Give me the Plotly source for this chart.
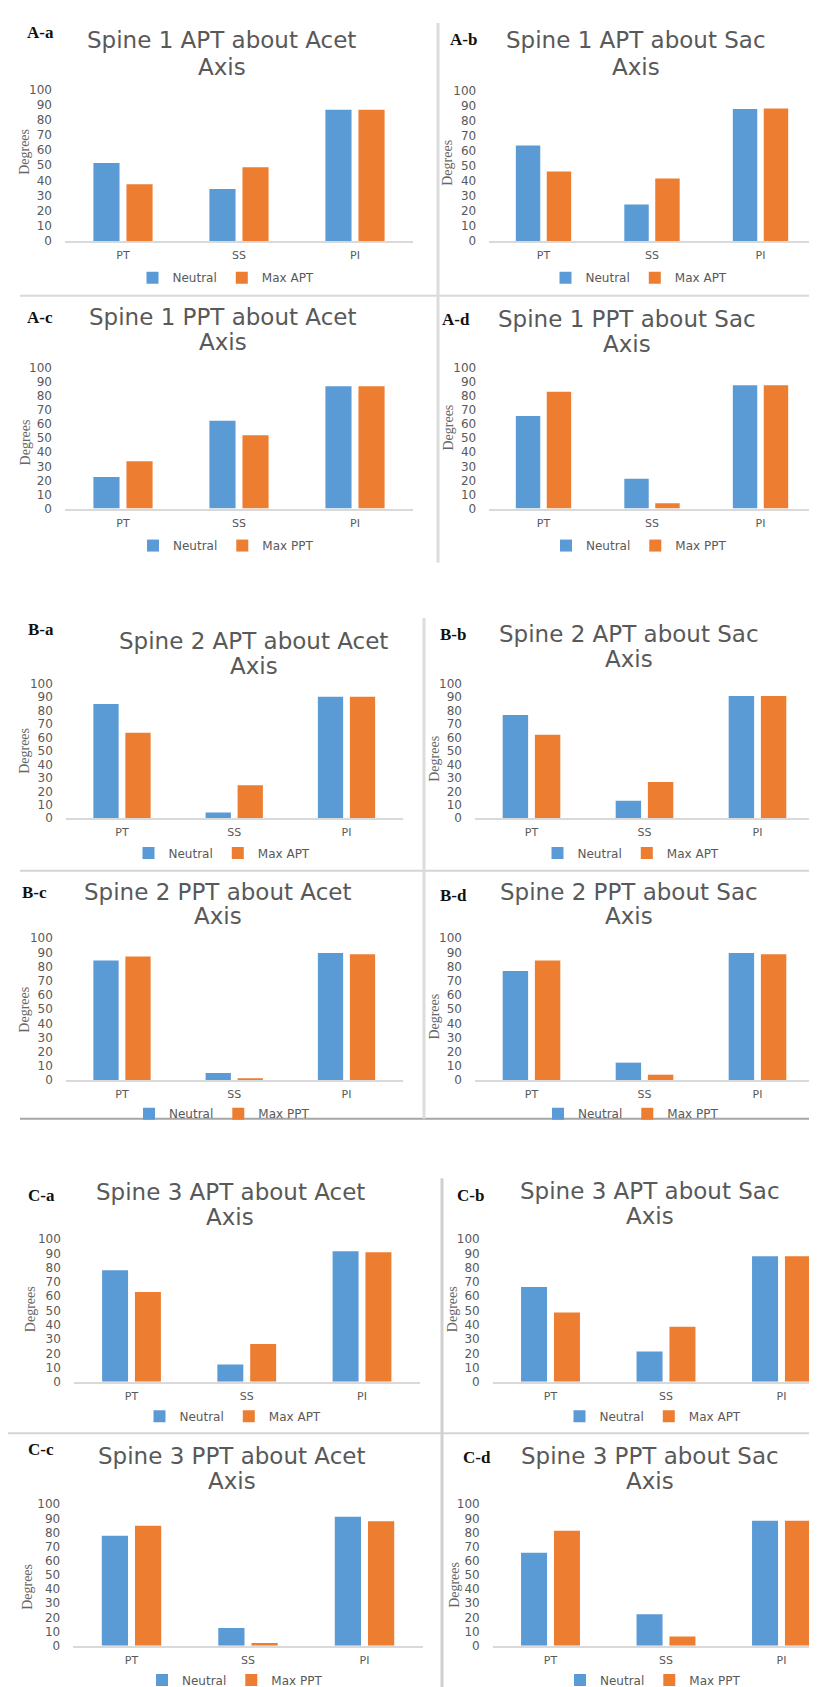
import plotly.graph_objects as go

# ---------------- data ----------------
categories = ["PT", "SS", "PI"]
y_ticks = [0, 10, 20, 30, 40, 50, 60, 70, 80, 90, 100]

A_a_neutral = [51.5, 34.3, 86.5]
A_a_max = [37.4, 48.7, 86.5]
A_b_neutral = [63.5, 24.3, 87.7]
A_b_max = [46.2, 41.6, 88.0]
A_c_neutral = [22.5, 62.4, 86.9]
A_c_max = [33.6, 52.1, 86.9]
A_d_neutral = [65.7, 21.1, 87.6]
A_d_max = [82.9, 3.8, 87.6]

B_a_neutral = [84.9, 4.2, 90.3]
B_a_max = [63.5, 24.6, 90.3]
B_b_neutral = [76.8, 13.0, 90.8]
B_b_max = [62.0, 27.0, 90.8]
B_c_neutral = [84.4, 5.0, 89.7]
B_c_max = [87.2, 1.2, 88.8]
B_d_neutral = [76.9, 12.3, 89.7]
B_d_max = [84.4, 3.8, 88.8]

C_a_neutral = [78.2, 12.2, 91.4]
C_a_max = [62.9, 26.6, 90.7]
C_b_neutral = [66.4, 21.3, 87.9]
C_b_max = [48.6, 38.6, 87.9]
C_c_neutral = [77.8, 12.4, 91.1]
C_c_max = [84.8, 1.9, 87.9]
C_d_neutral = [65.7, 22.2, 88.3]
C_d_max = [81.3, 6.5, 88.3]

# ---------------- layout helpers ----------------
W, H = 817, 1687
BLUE = "#5B9BD5"
ORANGE = "#ED7D31"
GREY = "#595959"


def px_x(x):
    return x / W


def px_y(y):
    return 1 - y / H


panels = [
    dict(lab="A-a", n=A_a_neutral, m=A_a_max, mname="Max APT", t="Spine 1 APT about Acet",
         cPT=115, s=116, y100=75, y0=228, labxy=(17, 18), t1=(214, 25), t2=(214, 52), deg=(17, 138), leg=(218, 265)),
    dict(lab="A-b", n=A_b_neutral, m=A_b_max, mname="Max APT", t="Spine 1 APT about Sac",
         cPT=535.5, s=108.5, y100=76, y0=228, labxy=(440, 25), t1=(628, 25), t2=(628, 52), deg=(440, 149), leg=(631, 265)),
    dict(lab="A-c", n=A_c_neutral, m=A_c_max, mname="Max PPT", t="Spine 1 PPT about Acet",
         cPT=115, s=116, y100=355.7, y0=497.7, labxy=(17, 305), t1=(215, 305), t2=(215, 330), deg=(17, 431), leg=(218, 535)),
    dict(lab="A-d", n=A_d_neutral, m=A_d_max, mname="Max PPT", t="Spine 1 PPT about Sac",
         cPT=535.5, s=108.5, y100=355.7, y0=497.7, labxy=(432, 307), t1=(619, 307), t2=(619, 332), deg=(441, 416), leg=(631, 535)),
    dict(lab="B-a", n=B_a_neutral, m=B_a_max, mname="Max APT", t="Spine 2 APT about Acet",
         cPT=114, s=112.25, y100=674.3, y0=810, labxy=(18, 620), t1=(246, 631), t2=(246, 656), deg=(17, 742), leg=(214, 845)),
    dict(lab="B-b", n=B_b_neutral, m=B_b_max, mname="Max APT", t="Spine 2 APT about Sac",
         cPT=523.5, s=113, y100=674.3, y0=810, labxy=(430, 625), t1=(621, 624), t2=(621, 649), deg=(427, 750), leg=(623, 845)),
    dict(lab="B-c", n=B_c_neutral, m=B_c_max, mname="Max PPT", t="Spine 2 PPT about Acet",
         cPT=114, s=112.25, y100=931, y0=1074, labxy=(12, 885), t1=(210, 884), t2=(210, 909), deg=(17, 1003), leg=(214, 1108)),
    dict(lab="B-d", n=B_d_neutral, m=B_d_max, mname="Max PPT", t="Spine 2 PPT about Sac",
         cPT=523.5, s=113, y100=931, y0=1074, labxy=(430, 888), t1=(621, 884), t2=(621, 909), deg=(427, 1010), leg=(623, 1108)),
    dict(lab="C-a", n=C_a_neutral, m=C_a_max, mname="Max APT", t="Spine 3 APT about Acet",
         cPT=123.5, s=115.25, y100=1234.3, y0=1378.3, labxy=(18, 1190), t1=(222, 1187), t2=(222, 1212), deg=(22, 1305), leg=(225, 1413)),
    dict(lab="C-b", n=C_b_neutral, m=C_b_max, mname="Max APT", t="Spine 3 APT about Sac",
         cPT=542.5, s=115.5, y100=1234.3, y0=1378.3, labxy=(447, 1190), t1=(642, 1186), t2=(642, 1211), deg=(444, 1305), leg=(645, 1413)),
    dict(lab="C-c", n=C_c_neutral, m=C_c_max, mname="Max PPT", t="Spine 3 PPT about Acet",
         cPT=123.5, s=116.5, y100=1501.7, y0=1644.3, labxy=(18, 1447), t1=(224, 1453), t2=(224, 1478), deg=(20, 1585), leg=(227, 1679)),
    dict(lab="C-d", n=C_d_neutral, m=C_d_max, mname="Max PPT", t="Spine 3 PPT about Sac",
         cPT=542.5, s=115.5, y100=1501.7, y0=1644.3, labxy=(453, 1455), t1=(642, 1453), t2=(642, 1478), deg=(447, 1583), leg=(645, 1679)),
]

fig = go.Figure()
layout = dict(
    width=W, height=H,
    margin=dict(l=0, r=0, t=0, b=0),
    paper_bgcolor="white", plot_bgcolor="white",
    barmode="group", bargap=0.43, bargroupgap=0.21,
    showlegend=True,
    annotations=[], shapes=[],
)

for i, p in enumerate(panels, start=1):
    xr = "x" if i == 1 else f"x{i}"
    yr = "y" if i == 1 else f"y{i}"
    xk = "xaxis" if i == 1 else f"xaxis{i}"
    yk = "yaxis" if i == 1 else f"yaxis{i}"
    lk = "legend" if i == 1 else f"legend{i}"

    fig.add_trace(go.Bar(x=categories, y=p["n"], name="Neutral", marker=dict(color=BLUE, line=dict(width=0)),
                         xaxis=xr, yaxis=yr, legend=lk, hoverinfo="skip"))
    fig.add_trace(go.Bar(x=categories, y=p["m"], name=p["mname"], marker=dict(color=ORANGE, line=dict(width=0)),
                         xaxis=xr, yaxis=yr, legend=lk, hoverinfo="skip"))

    x0 = p["cPT"] - p["s"] / 2
    x1 = x0 + 3 * p["s"]
    rmax = 2.5
    if x1 > W:
        rmax = -0.5 + (W - x0) / p["s"]
        x1 = W

    layout[xk] = dict(
        domain=[px_x(x0), px_x(x1)], anchor=yr, type="category",
        categoryorder="array", categoryarray=categories,
        range=[-0.5, rmax], fixedrange=True,
        showline=True, linecolor="#d9d9d9", linewidth=1.5,
        showgrid=False, zeroline=False, ticks="",
        tickfont=dict(family="DejaVu Sans", size=11, color=GREY),
        ticklabelstandoff=3,
    )
    layout[yk] = dict(
        domain=[px_y(p["y0"]), px_y(p["y100"])], anchor=xr,
        range=[0, 100], fixedrange=True,
        tickmode="array", tickvals=y_ticks, ticktext=[str(v) for v in y_ticks],
        showline=False, showgrid=False, zeroline=False, ticks="",
        tickfont=dict(family="DejaVu Sans", size=12, color=GREY),
        ticklabelstandoff=12,
    )
    layout[lk] = dict(
        orientation="h", x=px_x(p["leg"][0]), y=px_y(p["leg"][1]),
        xanchor="center", yanchor="middle", xref="paper", yref="paper",
        bgcolor="rgba(0,0,0,0)", borderwidth=0, itemwidth=30,
        font=dict(family="DejaVu Sans", size=12, color=GREY),
        traceorder="normal",
    )

    ann = layout["annotations"]
    ann.append(dict(text=f"<b>{p['lab']}</b>", x=px_x(p["labxy"][0]), y=px_y(p["labxy"][1]),
                    xref="paper", yref="paper", xanchor="left", yanchor="middle", showarrow=False,
                    font=dict(family="Liberation Serif", size=17, color="#111111")))
    ann.append(dict(text=p["t"], x=px_x(p["t1"][0]), y=px_y(p["t1"][1]),
                    xref="paper", yref="paper", xanchor="center", yanchor="middle", showarrow=False,
                    font=dict(family="DejaVu Sans", size=23, color=GREY)))
    ann.append(dict(text="Axis", x=px_x(p["t2"][0]), y=px_y(p["t2"][1]),
                    xref="paper", yref="paper", xanchor="center", yanchor="middle", showarrow=False,
                    font=dict(family="DejaVu Sans", size=23, color=GREY)))
    ann.append(dict(text="Degrees", x=px_x(p["deg"][0]), y=px_y(p["deg"][1]), textangle=-90,
                    xref="paper", yref="paper", xanchor="center", yanchor="middle", showarrow=False,
                    font=dict(family="Liberation Serif", size=14, color="#666666")))

# separators and column dividers (decoration)
def hline(y, xa, xb, color, w):
    return dict(type="line", xref="paper", yref="paper", x0=px_x(xa), x1=px_x(xb), y0=px_y(y), y1=px_y(y),
                line=dict(color=color, width=w), layer="below")


def vline(x, ya, yb, color, w):
    return dict(type="line", xref="paper", yref="paper", x0=px_x(x), x1=px_x(x), y0=px_y(ya), y1=px_y(yb),
                line=dict(color=color, width=w), layer="below")


layout["shapes"] += [
    hline(283, 12, 803, "#d9d9d9", 2),
    hline(863, 12, 808, "#d4d4d4", 2),
    hline(1113, 12, 817, "#a6a6a6", 2),
    hline(1430, 0, 817, "#d4d4d4", 2),
    vline(430, 8, 552, "#dcdcdc", 3),
    vline(416, 608, 1113, "#dcdcdc", 3),
    vline(434, 1173, 1687, "#d0d0d0", 3),
]

fig.update_layout(**layout)
fig.write_html("out.html")
